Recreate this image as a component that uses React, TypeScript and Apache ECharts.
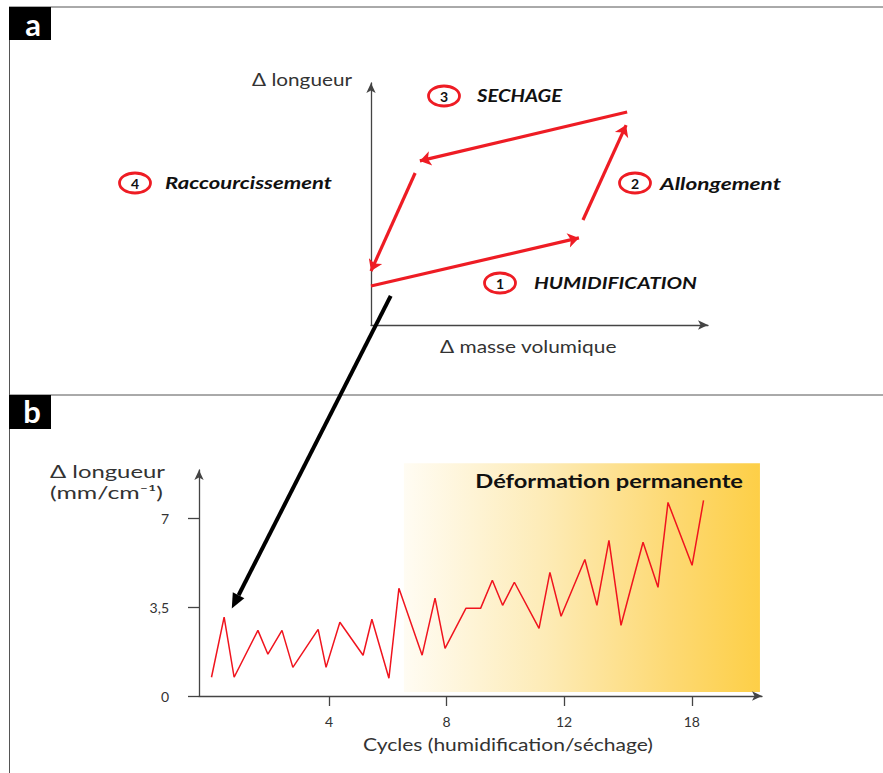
import React, { useEffect, useRef } from "react";
import * as echarts from "echarts";

// ---------- Panel b data (cycles vs Δ longueur) ----------
const cycleX = [0, 0.43, 0.77, 1.58, 1.92, 2.4, 2.77, 3.63, 3.9, 4.37, 5.16, 5.46, 6.04, 6.38, 7.17, 7.61, 7.95, 8.66, 9.16, 9.56, 9.91, 10.31, 11.15, 11.52, 11.9, 12.71, 13.12, 13.53, 13.94, 14.69, 15.2, 15.54, 16.36, 16.75];
const deltaLength = [0.74, 3.11, 0.74, 2.59, 1.65, 2.59, 1.13, 2.63, 1.13, 2.91, 1.61, 3.03, 0.7, 4.25, 1.61, 3.86, 1.88, 3.46, 3.46, 4.57, 3.58, 4.49, 2.67, 4.88, 3.15, 5.39, 3.58, 6.14, 2.79, 6.07, 4.29, 7.64, 5.16, 7.72];
const xTickValues = [4, 8, 12, 16.35];
const xTickLabels = ["4", "8", "12", "18"];
const yTickValues = [0, 3.5, 7];
const yTickLabels = ["0", "3,5", "7"];
const permanentZoneX = [6.55, 18.67];
const permanentZoneY = [0.16, 9.19];
const arrowTargetB = [0.69, 3.45];

// ---------- Panel a data (schematic cycle, axes 0..100) ----------
const phaseNumbers = ["1", "2", "3", "4"];
const phaseNames = ["HUMIDIFICATION", "Allongement", "SECHAGE", "Raccourcissement"];
const phaseArrowStart = [[0, 16.1], [62.9, 43.4], [76.0, 88.0], [13.1, 62.8]];
const phaseArrowEnd = [[61.7, 36.0], [75.7, 82.6], [14.5, 67.8], [0, 22.3]];
const arrowSourceA = [5.85, 12.0];

const FONT = "Lato, 'Noto Sans', sans-serif";
const RED = "#ee1c24";
const AXIS = "#444";

function measure(text: string, font: string): number {
  const c = document.createElement("canvas").getContext("2d");
  if (!c) return 0;
  c.font = font;
  return c.measureText(text).width;
}

function label(text: string, x: number, y: number, o: any) {
  const weight = o.weight || "normal";
  const fstyle = o.italic ? "italic" : "normal";
  let scaleX = 1;
  if (o.width) {
    const w = measure(text, `${fstyle} ${weight} ${o.size}px ${FONT}`);
    if (w > 0) scaleX = o.width / w;
  }
  return {
    type: "text",
    x,
    y,
    scaleX,
    z: 50,
    silent: true,
    style: {
      text,
      fill: o.color || "#333",
      fontSize: o.size,
      fontFamily: FONT,
      fontWeight: weight,
      fontStyle: fstyle,
      align: o.align || "left",
      verticalAlign: "middle",
    },
  };
}

function tickFmt(values: number[], labels: string[]) {
  return (v: number) => {
    const i = values.findIndex((t) => Math.abs(t - v) < 1e-6);
    return i >= 0 ? labels[i] : "";
  };
}

export default function App() {
  const ref = useRef<HTMLDivElement>(null);
  useEffect(() => {
    if (!ref.current) return;
    const chart = echarts.init(ref.current, null, { renderer: "svg" });
    const axisLine = (show: boolean) => ({
      show,
      onZero: false,
      symbol: ["none", "arrow"],
      symbolSize: [7, 10],
      lineStyle: { color: AXIS, width: 1.3 },
    });
    const option: any = {
      animation: false,
      backgroundColor: "#fff",
      grid: [
        { left: 371, right: 175, top: 83, bottom: 448 },
        { left: 199, right: 121, top: 470, bottom: 77 },
      ],
      xAxis: [
        {
          gridIndex: 0, type: "value", min: 0, max: 100,
          axisLine: axisLine(true), axisTick: { show: false }, axisLabel: { show: false }, splitLine: { show: false },
        },
        {
          gridIndex: 1, type: "value", min: -0.4255, max: 18.74,
          axisLine: axisLine(true),
          axisTick: { show: true, length: 10, customValues: xTickValues, lineStyle: { color: AXIS, width: 1.3 } },
          axisLabel: { show: true, customValues: xTickValues, formatter: tickFmt(xTickValues, xTickLabels), fontSize: 14, color: "#333", fontFamily: FONT, margin: 18 },
          splitLine: { show: false },
        },
      ],
      yAxis: [
        {
          gridIndex: 0, type: "value", min: 0, max: 100,
          axisLine: axisLine(true), axisTick: { show: false }, axisLabel: { show: false }, splitLine: { show: false },
        },
        {
          gridIndex: 1, type: "value", min: 0, max: 8.92,
          axisLine: axisLine(true),
          axisTick: { show: true, length: 11, customValues: yTickValues, lineStyle: { color: AXIS, width: 1.3 } },
          axisLabel: { show: true, customValues: yTickValues, formatter: tickFmt(yTickValues, yTickLabels), fontSize: 14, color: "#333", fontFamily: FONT, margin: 30 },
          splitLine: { show: false },
        },
      ],
      series: [
        {
          type: "lines",
          coordinateSystem: "cartesian2d",
          xAxisIndex: 0,
          yAxisIndex: 0,
          silent: true,
          symbol: ["none", "arrow"],
          symbolSize: 11,
          lineStyle: { color: RED, width: 3.2, opacity: 1, curveness: 0 },
          data: phaseArrowStart.map((s, i) => ({ coords: [s, phaseArrowEnd[i]] })),
        },
        {
          type: "line",
          xAxisIndex: 1,
          yAxisIndex: 1,
          showSymbol: false,
          clip: false,
          lineStyle: { color: "#f0141e", width: 1.5 },
          data: cycleX.map((x, i) => [x, deltaLength[i]]),
        },
      ],
    };
    chart.setOption(option);

    const tl = chart.convertToPixel({ gridIndex: 1 } as any, [permanentZoneX[0], permanentZoneY[1]]) as number[];
    const br = chart.convertToPixel({ gridIndex: 1 } as any, [permanentZoneX[1], permanentZoneY[0]]) as number[];
    const aStart = chart.convertToPixel({ gridIndex: 0 } as any, arrowSourceA) as number[];
    const aEnd = chart.convertToPixel({ gridIndex: 1 } as any, arrowTargetB) as number[];
    const dx = aEnd[0] - aStart[0];
    const dy = aEnd[1] - aStart[1];
    const len = Math.sqrt(dx * dx + dy * dy);
    const ux = dx / len, uy = dy / len;
    const headL = 15, headW = 6.5;
    const bx = aEnd[0] - ux * headL, by = aEnd[1] - uy * headL;

    const circles: [number, number][] = [[500, 283], [635, 183], [444, 96], [135, 183]];
    const nameSpecs: { x: number; y: number; w: number }[] = [
      { x: 534, y: 283, w: 163 },
      { x: 660, y: 183, w: 121 },
      { x: 477, y: 96, w: 85 },
      { x: 165, y: 183, w: 167 },
    ];

    const graphic: any[] = [
      // frames
      { type: "line", z: 40, silent: true, shape: { x1: 9, y1: 7, x2: 883, y2: 7 }, style: { stroke: "#555", lineWidth: 1 } },
      { type: "line", z: 40, silent: true, shape: { x1: 9.5, y1: 7, x2: 9.5, y2: 773 }, style: { stroke: "#555", lineWidth: 1 } },
      { type: "line", z: 40, silent: true, shape: { x1: 9, y1: 395, x2: 883, y2: 395 }, style: { stroke: "#555", lineWidth: 1 } },
      { type: "rect", z: 41, silent: true, shape: { x: 9, y: 7, width: 42, height: 33 }, style: { fill: "#000" } },
      { type: "rect", z: 41, silent: true, shape: { x: 9, y: 395, width: 42, height: 34 }, style: { fill: "#000" } },
      { type: "text", z: 42, silent: true, x: 33, y: 24, style: { text: "a", fill: "#fff", fontSize: 31, fontWeight: "bold", fontFamily: FONT, align: "center", verticalAlign: "middle" } },
      { type: "text", z: 42, silent: true, x: 32, y: 411, style: { text: "b", fill: "#fff", fontSize: 31, fontWeight: "bold", fontFamily: FONT, align: "center", verticalAlign: "middle" } },
      // permanent deformation zone
      {
        type: "rect", z: -10, silent: true,
        shape: { x: tl[0], y: tl[1], width: br[0] - tl[0], height: br[1] - tl[1] },
        style: {
          fill: new echarts.graphic.LinearGradient(0, 0, 1, 0, [
            { offset: 0, color: "#fffcf3" },
            { offset: 0.4, color: "#fdebb6" },
            { offset: 0.75, color: "#fdd973" },
            { offset: 1, color: "#fdcf47" },
          ]),
        },
      },
      label("Déformation permanente", 743, 481, { size: 18, weight: "bold", color: "#111", align: "right", width: 268 }),
      // connector arrow
      { type: "line", z: 60, silent: true, shape: { x1: aStart[0], y1: aStart[1], x2: bx, y2: by }, style: { stroke: "#000", lineWidth: 4 } },
      {
        type: "polygon", z: 60, silent: true,
        shape: { points: [[aEnd[0], aEnd[1]], [bx - uy * headW, by + ux * headW], [bx + uy * headW, by - ux * headW]] },
        style: { fill: "#000" },
      },
      // axis titles
      label("Δ longueur", 352, 79, { size: 17, align: "right", width: 100 }),
      label("Δ masse volumique", 440, 346, { size: 17, width: 177 }),
      label("Δ longueur", 50, 471, { size: 17, width: 115 }),
      label("(mm/cm⁻¹)", 50, 493, { size: 17, width: 113 }),
      label("Cycles (humidification/séchage)", 363, 744, { size: 17, width: 290 }),
    ];
    circles.forEach((c, i) => {
      graphic.push({
        type: "ellipse", z: 50, silent: true,
        shape: { cx: c[0], cy: c[1], rx: 15.5, ry: 10 },
        style: { fill: "#fff", stroke: RED, lineWidth: 2.8 },
      });
      graphic.push({
        type: "text", z: 51, silent: true, x: c[0], y: c[1] + 0.5,
        style: { text: phaseNumbers[i], fill: "#111", fontSize: 14, fontWeight: "bold", fontFamily: FONT, align: "center", verticalAlign: "middle" },
      });
      const n = nameSpecs[i];
      graphic.push(label(phaseNames[i], n.x, n.y, { size: 16.5, weight: "bold", italic: true, color: "#111", width: n.w }));
    });
    chart.setOption({ graphic });

    return () => chart.dispose();
  }, []);
  return (
    <div
      ref={ref}
      style={{ position: "fixed", left: 0, top: 0, width: 883, height: 773, background: "#fff" }}
    />
  );
}
